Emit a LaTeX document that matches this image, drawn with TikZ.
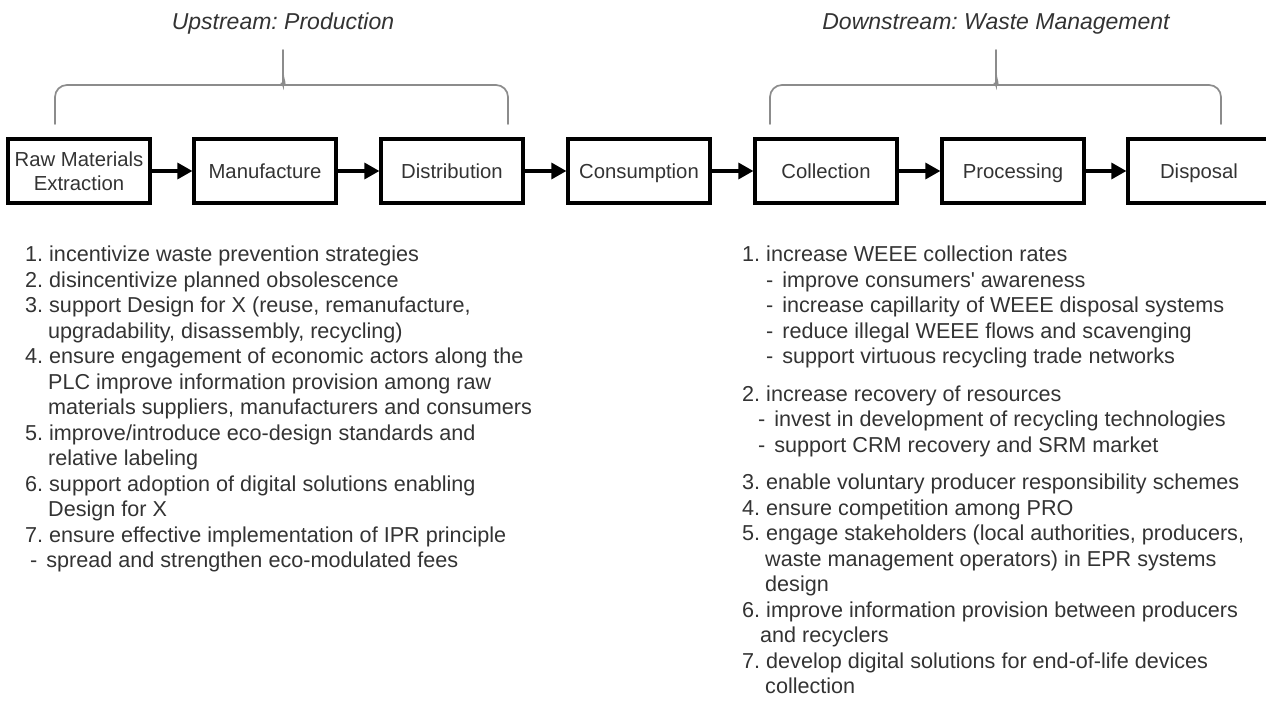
\documentclass[tikz,border=0pt]{standalone}
\usepackage{fontspec}
\setmainfont{Liberation Sans}
\usetikzlibrary{arrows.meta}
\definecolor{txt}{HTML}{333333}
\definecolor{brc}{HTML}{8C8C8C}
\newcommand{\ind}{\hspace*{23pt}}
\frenchspacing
\begin{document}
\begin{tikzpicture}[x=1pt,y=-1pt,
  stagebox/.style={draw=black, line width=3.2pt, minimum width=142pt, minimum height=64pt,
    inner sep=0pt, align=center, text=txt, font=\fontsize{20.3}{23.5}\selectfont},
  oneline/.style={text height=18.5pt, text depth=4.3pt},
  flow/.style={draw=black, line width=3.2pt, -{Triangle[length=15pt,width=16pt]}},
  bracepath/.style={draw=brc, line width=1.7pt, rounded corners=12pt, line cap=round},
  titletext/.style={text=txt, inner sep=0pt, font=\fontsize{23}{26}\selectfont\itshape},
  listtext/.style={text=txt, inner sep=0pt, anchor=north west, align=left,
    font=\fontsize{21.6}{25.5}\selectfont}
]
\useasboundingbox (0,0) rectangle (1266,706);

% stage boxes
\node[stagebox] (raw)  at (79,171)   {Raw Materials\\Extraction};
\node[stagebox, oneline] (man)  at (265,171)  {Manufacture};
\node[stagebox, oneline] (dist) at (452,171)  {Distribution};
\node[stagebox, oneline] (cons) at (639,171)  {Consumption};
\node[stagebox, oneline] (coll) at (826,171)  {Collection};
\node[stagebox, oneline] (proc) at (1013,171) {Processing};
\node[stagebox, oneline] (disp) at (1199,171) {Disposal};

\draw[flow] (raw) -- (man);
\draw[flow] (man) -- (dist);
\draw[flow] (dist) -- (cons);
\draw[flow] (cons) -- (coll);
\draw[flow] (coll) -- (proc);
\draw[flow] (proc) -- (disp);

% braces
\draw[bracepath] (55,124) -- (55,85) -- (271,85) .. controls (279,85) and (283,81) .. (283,73) -- (283,50);
\draw[bracepath] (283,73) .. controls (283,81) and (287,85) .. (295,85) -- (508,85) -- (508,124);
\draw[bracepath] (770,124) -- (770,85) -- (984,85) .. controls (992,85) and (996,81) .. (996,73) -- (996,50);
\draw[bracepath] (996,73) .. controls (996,81) and (1000,85) .. (1008,85) -- (1221,85) -- (1221,124);

% titles
\node[titletext] (up)   at (283,24) {Upstream: Production};
\node[titletext] (down) at (996,24) {Downstream: Waste Management};

% left list
\node[listtext] (left) at (25,246) {%
1. incentivize waste prevention strategies\\
2. disincentivize planned obsolescence\\
3. support Design for X (reuse, remanufacture,\\
\ind upgradability, disassembly, recycling)\\
4. ensure engagement of economic actors along the\\
\ind PLC improve information provision among raw\\
\ind materials suppliers, manufacturers and consumers\\
5. improve/introduce eco-design standards and\\
\ind relative labeling\\
6. support adoption of digital solutions enabling\\
\ind Design for X\\
7. ensure effective implementation of IPR principle\\
\hspace*{5pt}-\hspace{9pt}spread and strengthen eco-modulated fees};

% right list
\node[listtext] (right) at (742,246) {%
1. increase WEEE collection rates\\
\hspace*{24pt}-\hspace{9pt}improve consumers\textquotesingle\ awareness\\
\hspace*{24pt}-\hspace{9pt}increase capillarity of WEEE disposal systems\\
\hspace*{24pt}-\hspace{9pt}reduce illegal WEEE flows and scavenging\\
\hspace*{24pt}-\hspace{9pt}support virtuous recycling trade networks\\[12pt]
2. increase recovery of resources\\
\hspace*{16pt}-\hspace{9pt}invest in development of recycling technologies\\
\hspace*{16pt}-\hspace{9pt}support CRM recovery and SRM market\\[12pt]
3. enable voluntary producer responsibility schemes\\
4. ensure competition among PRO\\
5. engage stakeholders (local authorities, producers,\\
\ind waste management operators) in EPR systems\\
\ind design\\
6. improve information provision between producers\\
\hspace*{18pt}and recyclers\\
7. develop digital solutions for end-of-life devices\\
\ind collection};
\end{tikzpicture}
\end{document}
